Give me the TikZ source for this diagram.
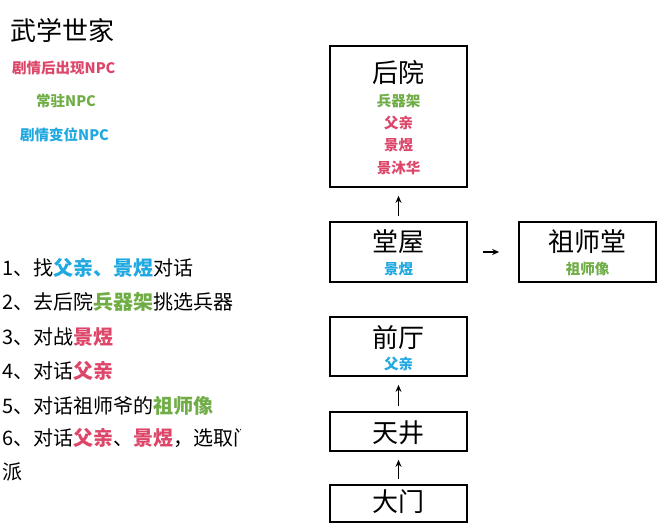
\documentclass[tikz,border=0pt]{standalone}
\usepackage{fontspec}
\setmainfont{Noto Sans CJK SC}
\usetikzlibrary{arrows.meta}
\definecolor{npcred}{RGB}{221,70,105}
\definecolor{npcgreen}{RGB}{112,173,71}
\definecolor{npcblue}{RGB}{32,168,224}
\newcommand{\rd}[1]{\textbf{\textcolor{npcred}{#1}}}
\newcommand{\gr}[1]{\textbf{\textcolor{npcgreen}{#1}}}
\newcommand{\bl}[1]{\textbf{\textcolor{npcblue}{#1}}}

\begin{document}
\begin{tikzpicture}[x=1pt,y=-1pt,
  room/.style={draw,line width=1.7pt,minimum width=137pt,inner sep=0pt},
  title/.style={inner sep=0pt,font=\fontsize{26}{28}\selectfont},
  npc/.style={inner sep=0pt,font=\fontsize{14.5}{16}\selectfont\bfseries},
  legend/.style={inner sep=0pt,anchor=west,font=\fontsize{14.5}{16}\selectfont\bfseries},
  stepline/.style={inner sep=0pt,anchor=west,font=\fontsize{20}{22}\selectfont},
  go/.style={-{Stealth[length=7pt,width=6pt]},line width=1.2pt,shorten <=5pt,shorten >=8pt}]
\useasboundingbox (0,0) rectangle (662,527);

% legend
\node[title,anchor=west] (name) at (10,31) {武学世家};
\node[legend,text=npcred] (later) at (12,68) {剧情后出现NPC};
\node[legend,text=npcgreen] (stay) at (36,101) {常驻NPC};
\node[legend,text=npcblue] (moved) at (20,135) {剧情变位NPC};

% rooms
\node[room,minimum height=141pt] (houyuan) at (398.5,116.5) {};
\node[title] (houyuanT) at (398.5,73) {后院};
\node[npc,text=npcgreen] (rack) at (398.5,101) {兵器架};
\node[npc,text=npcred] (father1) at (398.5,123) {父亲};
\node[npc,text=npcred] (jingyu1) at (398.5,145) {景煜};
\node[npc,text=npcred] (jingmh) at (398.5,168) {景沐华};

\node[room,minimum height=60pt] (tangwu) at (398.5,252) {};
\node[title] (tangwuT) at (398.5,242) {堂屋};
\node[npc,text=npcblue] (jingyu2) at (398.5,269) {景煜};

\node[room,minimum height=60pt] (citang) at (587.5,252) {};
\node[title] (citangT) at (587.5,242) {祖师堂};
\node[npc,text=npcgreen] (statue) at (587.5,269) {祖师像};

\node[room,minimum height=59pt] (qianting) at (398.5,346.5) {};
\node[title] (qiantingT) at (398.5,338) {前厅};
\node[npc,text=npcblue] (father2) at (398.5,364) {父亲};

\node[room,minimum height=39pt] (tianjing) at (398.5,431.5) {};
\node[title] (tianjingT) at (398.5,433) {天井};

\node[room,minimum height=37pt] (damen) at (398.5,503.5) {};
\node[title] (damenT) at (398.5,502) {大门};

% paths
\draw[go] (damen) -- (tianjing);
\draw[go] (tianjing) -- (qianting);
\draw[go] (tangwu) -- (houyuan);
\draw[go,shorten <=15pt,shorten >=19pt] (tangwu) -- (citang);

% steps
\begin{scope}
\clip (0,250) rectangle (240,490);
\node[stepline] (s1) at (2,268) {1、找\bl{父亲}\bl{、}\bl{景煜}对话};
\node[stepline] (s2) at (2,302) {2、去后院\gr{兵器架}挑选兵器};
\node[stepline] (s3) at (2,337) {3、对战\rd{景煜}};
\node[stepline] (s4) at (2,371) {4、对话\rd{父亲}};
\node[stepline] (s5) at (2,406) {5、对话祖师爷的\gr{祖师像}};
\node[stepline] (s6) at (2,438) {6、对话\rd{父亲}、\rd{景煜}，选取门};
\node[stepline] (s7) at (2,472) {派};
\end{scope}
\end{tikzpicture}
\end{document}
